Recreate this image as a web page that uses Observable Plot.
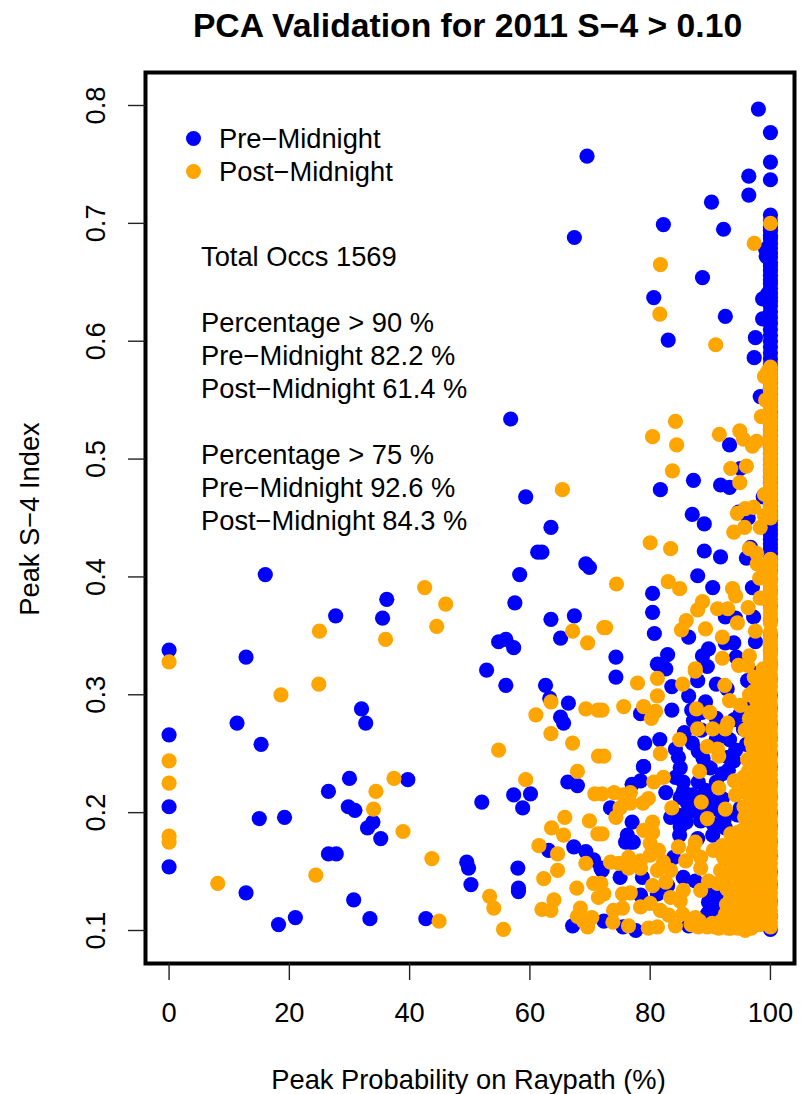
<!DOCTYPE html>
<html><head><meta charset="utf-8">
<script src="https://cdn.jsdelivr.net/npm/d3@7"></script>
<script src="https://cdn.jsdelivr.net/npm/@observablehq/plot@0.6"></script>
<style>
html,body{margin:0;padding:0;background:#fff;}
body{width:801px;height:1094px;position:relative;overflow:hidden;font-family:"Liberation Sans",sans-serif;color:#000;}
#title{position:absolute;left:143px;width:649px;top:8px;text-align:center;font-weight:bold;font-size:33.7px;line-height:34px;white-space:nowrap;}
#chart{position:absolute;left:0;top:60px;}
.t{position:absolute;font-size:27.3px;line-height:30px;white-space:pre;}
.k{position:absolute;width:15px;height:15px;border-radius:50%;left:186px;}
</style></head><body>
<div id="title"></div><div id="chart"></div><div id="notes"></div>
<script>
const titleText = "PCA Validation for 2011 S\u22124 > 0.10";
const xLabel = "Peak Probability on Raypath (%)";
const yLabel = "Peak S\u22124 Index";
const xTicks = [0,20,40,60,80,100];
const yTicks = [0.1,0.2,0.3,0.4,0.5,0.6,0.7,0.8];
const seriesNames = ["Pre\u2212Midnight","Post\u2212Midnight"];
const seriesColors = ["#0000ff","#ffa500"];
const notes = [
 ["Total Occs 1569",256],
 ["Percentage > 90 %",322],["Pre\u2212Midnight 82.2 %",355],["Post\u2212Midnight 61.4 %",388],
 ["Percentage > 75 %",454],["Pre\u2212Midnight 92.6 %",487],["Post\u2212Midnight 84.3 %",520]
];

const preScatter = [
[0,.338],[0,.266],[0,.205],[0,.154],[12.8,.332],[11.3,.276],[15.3,.258],[16,.402],[15,.195],[19.2,.196],[12.8,.132],[18.2,.105],[21,.111],
[27.7,.367],[26.5,.218],[26.5,.165],[27.8,.165],[32,.288],[32.7,.276],[30,.229],[29.8,.205],[30.9,.202],[30.7,.126],[33.4,.110],[33,.187],[33.9,.192],[35.2,.178],[35.5,.365],[36.2,.381],[39.7,.228],[42.7,.110],
[49.5,.158],[49.8,.153],[50.2,.139],[52,.209],[52.8,.321],[54.8,.345],[56,.347],[56,.308],[57.3,.340],[56.8,.534],[57.5,.378],[58.3,.402],[57.3,.215],[60.1,.216],[58.8,.204],[58,.153],[58.1,.136],[58.1,.133],[59.3,.468],
[61.3,.421],[62,.421],[63.5,.442],[62.6,.308],[63.5,.364],[65.1,.348],[63.3,.297],[65.1,.281],[65.6,.276],[66.4,.293],[66.3,.226],[67.9,.223],[67.4,.688],[69.5,.757],[69.3,.411],[69.9,.408],[67.4,.367],[63.1,.168],[67.3,.171],[69.3,.167],[70.6,.160],[71.8,.153],[67.1,.104],
[74.3,.332],[74.3,.315],[72,.151],[72.3,.108],[73.4,.204],[75,.145],[77,.192],[76.2,.181],[76.7,.175],[75.9,.175],[77.2,.175],[78.4,.284],[78.4,.227],[77,.224],[78.9,.239],[79.1,.259],[78.7,.145],[78.4,.130],[77.6,.100],[75.5,.103],
[98,.797],[100,.777],[100,.752],[96.4,.740],[100,.737],[96.4,.724],[90.2,.718],[82.2,.699],[92.2,.695],[100,.707],[88.7,.654],[80.6,.637],[92.5,.621],[83,.601],[98.7,.636],[98.7,.619],[97.5,.603],[97.3,.586],[99.2,.678],[99.3,.672],[99.5,.640],
[98.3,.553],[93.2,.512],[87.2,.482],[81.7,.474],[95,.492],[91.7,.478],[93.2,.476],[98.8,.468],[87,.453],[89,.445],[94.7,.455],[96.3,.450],[89,.422],[91.7,.417],[96.7,.425],[96,.416],[87.9,.401],[90.4,.391],[80.4,.386],[80.4,.370],[80.7,.352],[86.4,.349],[89.7,.339],[88.7,.333],[82.9,.334],[81.2,.326],[82.6,.322],[93.9,.344],[92.5,.344],[92.5,.366],[94.2,.365],[97,.391],[97.2,.366],[97.5,.345],[94.3,.332],
[89.5,.324],[87.9,.312],[83.6,.307],[86.4,.299],[83.6,.287],[91,.309],[92.8,.305],[89.2,.294],[86.9,.287],[87.2,.278],[91,.280],[88.6,.285],[81.6,.262],[87,.259],[84.2,.254],[84.7,.247],[85,.238],[78.9,.239],[88,.226],[85.5,.226],[84.2,.230],
[82.6,.217],[85,.213],[86.2,.208],[87.2,.202],[88.4,.196],[90,.210],[90.9,.208],[89.2,.219],[83.4,.196],[84.6,.198],[86.2,.200],[88.4,.193],[90.9,.216],[92.5,.187],[94.5,.198],[84.9,.181],[90.4,.181],[87.9,.178],[83.9,.162],[93,.157],[85.5,.145],[87.5,.142],[82.9,.138],[81.2,.131],[89.7,.124],[90.9,.119],[89.5,.114],[92.5,.128],[91.2,.132],[86.4,.104],[87.5,.106],[91,.113],[92,.120],
[93,.247],[94.2,.253],[93.9,.244],[93,.236],[95.5,.271],[96.2,.312],[97.8,.318],[96.7,.293],[97.8,.295],[95,.204],[96.2,.196],[96,.228],[96,.258],[97,.240],
[85.5,.218],[87,.215],[88,.209],[89.5,.205],[91.5,.202],[92,.212],[86,.192],[85,.188],[90.5,.190],[92.3,.194],[91,.226],[92,.233],[90,.238],[88.8,.246],[88,.252],[85.7,.268],[88.5,.270],[91,.262],[93.2,.262],[94,.279],[95,.284],[89.8,.116],[90.4,.126],[91.8,.126],[92,.112],[90.6,.133]
];
const preAt100 = [.101,.112,.125,.138,.15,.163,.176,.188,.2,.213,.226,.238,.25,.263,.276,.288,.3,.313,.326,.338,.35,.363,.376,.388,.398,.41,.42,.428,.436,.444,.452,.46,.47,.48,.49,.5,.51,.52,.53,.54,.55,.56,.57,.58,.59,.6,.61,.62,.63,.637,.645,.652,.66,.667,.675,.683,.69,.697];
const preAt100More = [.405,.415,.424,.432,.44,.448,.456,.465,.475,.485,.495,.505,.515,.525,.535,.545,.555,.565,.575,.585,.595,.605,.615,.625,.634,.641,.649,.656,.664,.671,.679,.687,.694,.702];

const postScatter = [
[0,.328],[0,.244],[0,.225],[0,.180],[0,.175],[8.1,.140],[18.6,.300],[25,.354],[24.9,.309],[24.4,.147],[36,.347],[34,.203],[34.4,.218],[37.4,.229],[38.9,.184],[42.5,.391],[44.5,.358],[46,.377],[43.7,.161],[44.9,.108],
[53.3,.129],[54,.119],[54.8,.253],[55.6,.101],[59.3,.228],[65.4,.474],[67.1,.354],[69.6,.344],[72.3,.357],[74.4,.394],[63.5,.294],[61,.283],[63.5,.267],[67.1,.259],[69.3,.288],[71.3,.287],[71.4,.248],[70.8,.216],[67.9,.235],[65.8,.196],[63.6,.187],[65.6,.181],[69.9,.193],[71.3,.182],[61.5,.172],[64.6,.165],[69.3,.157],[64.6,.151],[62.3,.144],[67.8,.136],[70.6,.140],[71.4,.128],[64,.126],[62,.118],[63.5,.117],[68.4,.119],[67.9,.112],[70.3,.111],[69.6,.103],[68.9,.108],
[100,.700],[97.3,.683],[81.7,.665],[81.6,.623],[90.9,.597],[99.5,.574],[84.2,.532],[80.4,.519],[84.4,.512],[83.7,.490],[80,.429],[83.4,.424],[83,.396],[84.9,.390],[72.6,.357],
[88.7,.379],[87.9,.372],[86,.363],[85.2,.355],[89.2,.356],[91.2,.373],[92.9,.373],[93.7,.390],[94.2,.384],[96.3,.374],[94.5,.361],[92,.349],[92,.331],[97.5,.354],[87.5,.322],[96.5,.333],[94.7,.325],[96.2,.325],
[91.5,.521],[94.9,.524],[95.5,.517],[97,.511],[97.7,.515],[98.5,.536],[96,.494],[93.4,.492],[94.9,.480],[97.2,.459],[95.8,.458],[94.5,.454],[95.7,.442],[93.9,.438],[98.3,.442],[96.5,.424],[97.7,.420],[97.8,.411],[99.3,.405],[98.2,.399],[98.3,.382],[99,.57],[99.2,.55],[99,.47],[99,.452],
[77.9,.310],[81.2,.314],[87.5,.320],[85.4,.309],[81.2,.299],[75.6,.290],[72,.287],[78.9,.290],[80.9,.286],[80.2,.280],[92.4,.308],[93.2,.295],[95,.291],[87.7,.288],[89.9,.285],[92.9,.276],[92.5,.271],[90.4,.271],[87.9,.271],[84.9,.262],[81.7,.250],[72.3,.248],[89.5,.256],[91.2,.254],[91.4,.248],[88.2,.235],[82.2,.230],[80.6,.226],[91.4,.221],[94,.227],[94.2,.215],[92.5,.203],[95.7,.196],[88.5,.209],[89.5,.195],[83.6,.204],
[72,.216],[74,.217],[76.7,.217],[75.6,.215],[76.7,.208],[75,.204],[74.3,.196],[79.7,.212],[78.8,.208],[80.4,.192],[78.9,.185],[80.4,.183],[72,.182],[84.7,.171],[87.5,.175],[92,.172],[94.5,.183],[95.5,.175],[94.2,.168],
[80,.174],[81.4,.168],[80,.164],[78.4,.159],[76.4,.162],[73.4,.158],[74.8,.157],[76.4,.153],[78.4,.153],[82.2,.158],[83.4,.151],[81.2,.151],[82.6,.141],[80.4,.138],[76.7,.132],[75.4,.131],[72.3,.131],[71.8,.140],
[85.9,.159],[88.4,.162],[87.2,.168],[88.4,.153],[90.5,.168],[91.7,.151],[89.7,.142],[88.4,.134],[85.5,.134],[83.4,.128],[85,.125],[91.2,.140],
[73.9,.117],[73.8,.107],[75.4,.119],[76.4,.104],[78.4,.120],[80,.123],[81.7,.117],[83.1,.113],[79.7,.102],[81.2,.103],[84.2,.104],[85.4,.114],[87.5,.111],[89.5,.103],[91.4,.102],[93,.102],[95.8,.100],[92.5,.114],[88.2,.108],[90.3,.106],[92.8,.107],[94,.104],
[97,.105],[97.5,.115],[98,.125],[96.8,.135],[97.6,.145],[98.4,.155],[96.6,.165],[97.4,.175],[98.2,.185],[97,.195],[97.8,.205],[98.6,.215],[96.7,.225],[97.5,.235],[98.3,.245],[97.1,.255],[97.9,.265],[98.7,.275],[96.9,.285],[97.7,.295],[98.5,.305],[97.3,.315],
[95,.105],[94.4,.112],[96,.118],[95,.126],[94,.133],[95.7,.14],[94.8,.148],[96,.155],[95.1,.163],[94,.12],[93.4,.128],[92.7,.122],[94.2,.145],[95.5,.172],[93.2,.108],[96.3,.107],[96.3,.185],[96,.2],[96.4,.215],[95.5,.23],[96.2,.245],[96.8,.26],[95.8,.27],[96.5,.28],[96.5,.3],[94.8,.138],[93.5,.152],[95.4,.155],[96.6,.128],[99,.12],[99.2,.14],[99,.16],[99.2,.18],[99,.2],[99.2,.22],[99,.24],[99.2,.26],[99,.28],[99.2,.3],
[97.2,.11],[98.2,.105],[98.8,.11],[98.4,.132],[97.2,.125],[98,.14],[97,.15],[98.6,.148],[97.8,.16],[96.9,.172],[98.7,.168],[98,.178],[96.8,.18],[98.6,.19],[97.6,.19],[96.9,.205],[98.3,.2],[97.3,.212],[98.2,.222],[97.2,.225],[98.6,.232],[97,.232],[97.8,.245],[96.9,.247],[98.7,.255],[97.5,.258],[98.5,.268],[97.3,.27],[98.2,.282],[97.3,.28],[98.7,.292],[97.2,.303],[98.1,.314],[98.8,.322],
[95.4,.112],[93.8,.112],[94.6,.122],[95.8,.13],[93.6,.14],[95.4,.147],[96.4,.145],[93.8,.162],[94.6,.158],[96.4,.165],[95.3,.185],[96.6,.192],[95.6,.205],[95.7,.218],[96.3,.235],[96.6,.27],[94.4,.128],[92.8,.135],[92.4,.145],[92.2,.162],[93.4,.172],[91.8,.108],[90.8,.103],[92,.103],[94.6,.102],[96.8,.102],[93.4,.102],[88,.103],[86.8,.105],[93.4,.182]
];
const postAt100 = [.103,.112,.122,.132,.142,.152,.162,.172,.182,.192,.202,.212,.222,.232,.242,.252,.262,.272,.282,.292,.302,.312,.322,.33,.338,.345,.353,.361,.369,.377,.385,.392,.4,.408,.415,.45,.458,.466,.474,.482,.49,.498,.506,.514,.522,.53,.538,.546,.554,.562,.57,.578];
const postAt100More = [.107,.117,.127,.137,.147,.157,.167,.177,.187,.197,.207,.217,.227,.237,.247,.257,.267,.277,.287,.297,.307,.317,.326,.334,.342,.349,.365,.373,.381,.388,.396,.404,.412,.454,.462,.47,.478,.486,.494,.502,.51,.518,.526,.534,.542,.55,.558,.566,.574];

const pre = [...preScatter.map(([x,y])=>({x,y})), ...preAt100.concat(preAt100More).map(y=>({x:100,y}))];
const post = [...postScatter.map(([x,y])=>({x,y})), ...postAt100.concat(postAt100More).map(y=>({x:100,y}))];

const dotRadius = 7.6;
const svg = Plot.plot({
  width:801, height:1034, marginLeft:145, marginRight:7, marginTop:12, marginBottom:131,
  style:{background:"#fff",fontFamily:"'Liberation Sans',sans-serif"},
  x:{domain:[-3.92,104],ticks:xTicks,label:null},
  y:{domain:[0.072,0.828],ticks:yTicks,label:null},
  marks:[
    Plot.dot(pre,{x:"x",y:"y",r:dotRadius,fill:seriesColors[0]}),
    Plot.dot(post,{x:"x",y:"y",r:dotRadius,fill:seriesColors[1]}),
    Plot.frame({stroke:"#000",strokeWidth:4}),
    Plot.axisX({ticks:xTicks,tickSize:17,tickPadding:22,fontSize:27.3,strokeWidth:1.4,stroke:"#222",fill:"#000",label:null,tickFormat:d=>String(d)}),
    Plot.axisY({ticks:yTicks,tickSize:17,tickPadding:24,fontSize:27.3,strokeWidth:1.4,stroke:"#222",fill:"#000",label:null,tickRotate:-90,textAnchor:"middle",tickFormat:d=>d.toFixed(1)})
  ]
});
document.getElementById("chart").appendChild(svg);
document.getElementById("title").textContent = titleText;

const box = document.getElementById("notes");
function addText(s,left,cy){const d=document.createElement("div");d.className="t";d.textContent=s;d.style.left=left+"px";d.style.top=(cy-14)+"px";box.appendChild(d);return d;}
seriesNames.forEach((n,i)=>{
  const cy=[138,171][i];
  addText(n,219,cy);
  const k=document.createElement("div");k.className="k";k.style.background=seriesColors[i];k.style.top=(cy-7.5)+"px";box.appendChild(k);
});
notes.forEach(([s,cy])=>addText(s,201,cy));
const xl=addText(xLabel,0,1079);xl.style.left="144px";xl.style.width="649px";xl.style.textAlign="center";
const yl=addText(yLabel,0,518);yl.style.left="30px";yl.style.transform="translate(-50%,0) rotate(-90deg)";
</script></body></html>
